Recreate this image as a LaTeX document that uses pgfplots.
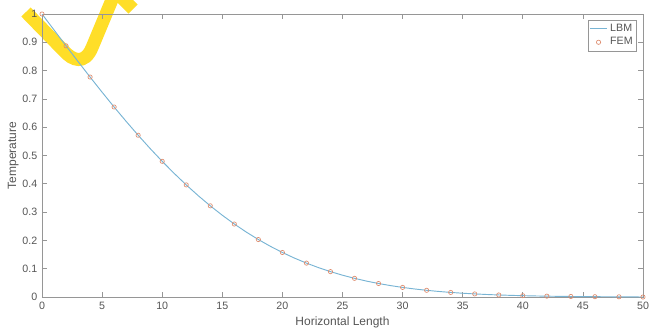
\documentclass[border=0pt]{standalone}
\usepackage{fontspec}
\setmainfont{Liberation Sans}
\usepackage{pgfplots}
\pgfplotsset{compat=1.18}
\usetikzlibrary{calc}
\definecolor{lbm}{RGB}{120,180,212}
\definecolor{fem}{RGB}{222,140,110}
\definecolor{axg}{RGB}{150,150,150}
\definecolor{txg}{RGB}{85,85,85}
\definecolor{wm}{RGB}{255,222,40}
\pgfplotsset{shortleg/.style={legend image code/.code={\draw[mark repeat=2,mark phase=2,##1] plot coordinates {(0cm,0cm) (0.225cm,0cm) (0.45cm,0cm)};}}}
\begin{document}
\begin{tikzpicture}
% watermark fragment (behind the plot)
\begin{scope}[x=1pt, y=1pt]
\draw[overlay, wm, line width=9.75pt] (-12,213.75) -- (16,185) .. controls (23,177) and (32,174) .. (37.5,187) -- (55,229);
\draw[overlay, wm, line width=9.75pt] (52.5,231.75) -- (68.25,216);
\end{scope}
\begin{axis}[
  scale only axis, width=450.75pt, height=212.25pt,
  xmin=0, xmax=50, ymin=0, ymax=1,
  xtick={0,5,...,50}, ytick={0,0.1,...,1},
  tick align=inside, major tick length=3.5pt,
  axis line style={axg, line width=0.6pt},
  tick style={axg, line width=0.6pt},
  ticklabel style={font=\fontsize{8}{9}\selectfont, text=txg},
  /pgf/number format/assume math mode=true,
  yticklabel style={/pgf/number format/fixed, /pgf/number format/precision=1},
  xlabel={Horizontal Length}, ylabel={Temperature},
  label style={font=\fontsize{9}{10}\selectfont, text=txg},
  xlabel style={yshift=1.5pt},
  ylabel style={yshift=-4pt},
  legend style={at={(1,1)}, xshift=-4.5pt, yshift=-4.5pt, anchor=north east,
    draw=axg, font=\fontsize{8}{9}\selectfont, text=txg, inner sep=1pt,
    row sep=-1pt},
  legend cell align=left,
  shortleg,
]
\addplot[lbm, line width=0.7pt, no marks] coordinates {
(0,1.00000) (1,0.94363) (2,0.88754) (3,0.83200) (4,0.77730) (5,0.72367)
(6,0.67137) (7,0.62062) (8,0.57161) (9,0.52452) (10,0.47950) (11,0.43668)
(12,0.39614) (13,0.35797) (14,0.32220) (15,0.28884) (16,0.25790) (17,0.22933)
(18,0.20309) (19,0.17911) (20,0.15730) (21,0.13756) (22,0.11980) (23,0.10388)
(24,0.08969) (25,0.07710) (26,0.06599) (27,0.05624) (28,0.04771) (29,0.04030)
(30,0.03389) (31,0.02838) (32,0.02365) (33,0.01962) (34,0.01621) (35,0.01333)
(36,0.01091) (37,0.00889) (38,0.00721) (39,0.00582) (40,0.00468) (41,0.00374)
(42,0.00298) (43,0.00236) (44,0.00186) (45,0.00146) (46,0.00114) (47,0.00089)
(48,0.00069) (49,0.00040) (50,0.00000)
};
\addlegendentry{LBM}
\addplot[only marks, mark=o, mark size=1.6pt, fem, line width=0.5pt] coordinates {
(0,1.000) (2,0.8875) (4,0.7773) (6,0.6714) (8,0.5716) (10,0.4795)
(12,0.3961) (14,0.3222) (16,0.2579) (18,0.2031) (20,0.1573) (22,0.1198)
(24,0.0897) (26,0.0660) (28,0.0477) (30,0.0339) (32,0.0237) (34,0.0162)
(36,0.0109) (38,0.0072) (40,0.0047) (42,0.0030) (44,0.0019) (46,0.0011)
(48,0.0007) (50,0.0000)
};
\addlegendentry{FEM}
\end{axis}
\pgfresetboundingbox
\path ($(current axis.south west)+(-31.5pt,-24.75pt)$) rectangle ($(current axis.north east)+(4.5pt,10.5pt)$);
\end{tikzpicture}
\end{document}
